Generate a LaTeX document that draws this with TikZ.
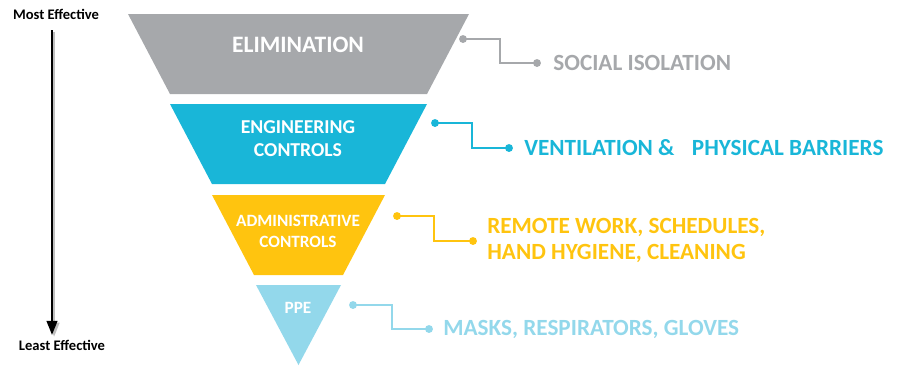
\documentclass[tikz,border=0pt]{standalone}
\usepackage{fontspec}
\setmainfont{Carlito}
\usetikzlibrary{arrows.meta}
\definecolor{elimgray}{HTML}{A6A8AB}
\definecolor{engcyan}{HTML}{19B6D8}
\definecolor{admyellow}{HTML}{FFC40F}
\definecolor{ppeblue}{HTML}{93D8EB}
\begin{document}
\begin{tikzpicture}[x=0.02cm, y=-0.02cm,
  band/.style={font=\bfseries, text=white, align=center},
  dot/.style={circle, fill, inner sep=0pt, minimum size=4.5pt},
  link/.style={line width=0.8pt},
  label/.style={anchor=west, font=\bfseries\fontsize{13.2}{15}\selectfont, align=left, inner sep=0pt},
  side/.style={font=\bfseries\fontsize{8.3}{10}\selectfont, text=black}]
  \useasboundingbox (0,0) rectangle (900,390);
  % the four bands of the funnel
  \fill[elimgray]  (128,14) -- (469,14) -- (427,94) -- (170,94) -- cycle;
  \fill[engcyan]   (170,104) -- (427,104) -- (385,184) -- (212,184) -- cycle;
  \fill[admyellow] (212,195) -- (385,195) -- (343,275) -- (254,275) -- cycle;
  \fill[ppeblue]   (256,285) -- (341,285) -- (298.5,365) -- cycle;
  \node[band, font=\bfseries\fontsize{13.4}{15}\selectfont] (elim) at (298,45) {ELIMINATION};
  \node[band, font=\bfseries\fontsize{11.2}{13}\selectfont] (eng) at (298,139) {ENGINEERING\\CONTROLS};
  \node[band, font=\bfseries\fontsize{9.8}{12}\selectfont] (adm) at (298,231) {ADMINISTRATIVE\\CONTROLS};
  \node[band, font=\bfseries\fontsize{9.8}{12}\selectfont] (ppe) at (298,308) {PPE};
  % connectors and examples
  \node[dot, elimgray] (e1) at (463,39) {};
  \node[dot, elimgray] (e2) at (537,63) {};
  \draw[link, elimgray] (e1.center) -- ++(37,0) |- (e2.center);
  \node[label, text=elimgray] (elimtxt) at (553,63) {SOCIAL ISOLATION};
  \node[dot, engcyan] (g1) at (435,123) {};
  \node[dot, engcyan] (g2) at (509,148) {};
  \draw[link, engcyan] (g1.center) -- ++(37,0) |- (g2.center);
  \node[label, text=engcyan] (engtxt) at (524,148) {VENTILATION \&\hspace{0.75em}PHYSICAL BARRIERS};
  \node[dot, admyellow] (a1) at (397,216) {};
  \node[dot, admyellow] (a2) at (473,241) {};
  \draw[link, admyellow] (a1.center) -- ++(37,0) |- (a2.center);
  \node[label, text=admyellow, font=\bfseries\fontsize{13.2}{14.8}\selectfont] (admtxt) at (487,240) {REMOTE WORK, SCHEDULES,\\HAND HYGIENE, CLEANING};
  \node[dot, ppeblue] (p1) at (353,305) {};
  \node[dot, ppeblue] (p2) at (429,329) {};
  \draw[link, ppeblue] (p1.center) -- ++(39,0) |- (p2.center);
  \node[label, text=ppeblue] (ppetxt) at (443,329) {MASKS, RESPIRATORS, GLOVES};
  % effectiveness arrow
  \node[side] (most) at (56,14) {Most Effective};
  \node[side] (least) at (62,345) {Least Effective};
  \coordinate (top) at (52,30);
  \coordinate (bot) at (52,335);
  \draw[line width=1.2pt, black!25, -{Triangle[width=6pt, length=8pt]}] ([xshift=1.2pt, yshift=-1pt]top) -- ([xshift=1.2pt, yshift=-1pt]bot);
  \draw[line width=1.2pt, -{Triangle[width=6pt, length=8pt]}] (top) -- (bot);
\end{tikzpicture}
\end{document}
